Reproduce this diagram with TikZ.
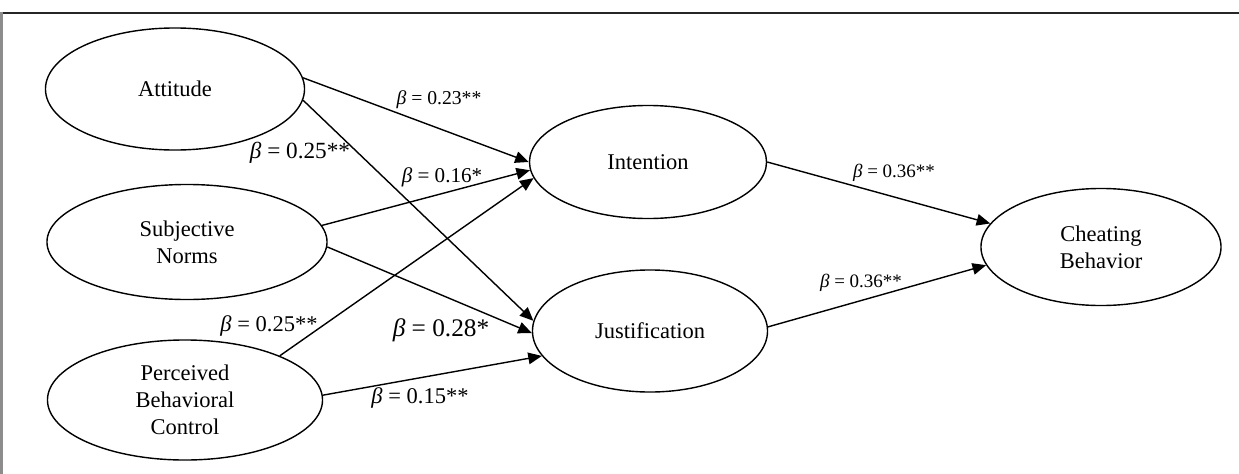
\documentclass[tikz,border=0pt]{standalone}
\usepackage{fontspec}
\setmainfont{Liberation Serif}
\usetikzlibrary{shapes.geometric,arrows.meta}
\begin{document}
\begin{tikzpicture}[x=0.025cm,y=-0.025cm,
  var/.style={ellipse,draw,line width=1pt,inner sep=0pt,align=center,font=\fontsize{16}{19}\selectfont},
  arr/.style={draw,line width=1pt,-{Triangle[length=0.34cm,width=0.29cm]}},
  lab/.style={inner sep=0pt}]
\useasboundingbox (0,0) rectangle (1239,474);
% frame
\draw[black!85,line width=0.05cm] (0,12.5) -- (1239,12.5);
\draw[black!45,line width=0.07cm] (1.5,12) -- (1.5,474);
% variables
\node[var,minimum width=6.475cm,minimum height=3.05cm] (att) at (175,89) {Attitude};
\node[var,minimum width=7.0cm,minimum height=2.875cm] (sn) at (187,242) {Subjective\\Norms};
\node[var,minimum width=6.875cm,minimum height=3.0cm] (pbc) at (185,400) {Perceived\\Behavioral\\Control};
\node[var,minimum width=5.925cm,minimum height=2.825cm] (int) at (648,162) {Intention};
\node[var,minimum width=5.875cm,minimum height=3.05cm] (jus) at (650,331) {Justification};
\node[var,minimum width=6.0cm,minimum height=2.925cm] (cb) at (1101,247) {Cheating\\Behavior};
% paths
\draw[arr] (att.5.4) -- (int.180);
\draw[arr] (att.-5.8) -- (jus.175.7);
\draw[arr] (sn.7.9) -- (int.184.8);
\draw[arr] (sn.-2.4) -- (jus.181);
\draw[arr] (pbc.25.6) -- (int.188.6);
\draw[arr] (pbc.2.9) -- (jus.193);
\draw[arr] (int.0) -- (cb.168);
\draw[arr] (jus.2.9) -- (cb.189.8);
% labels
\node[lab,font=\fontsize{14}{16}\selectfont] (l1) at (439,100) {\textit{β} = 0.23**};
\node[lab,font=\fontsize{16.5}{18}\selectfont] (l2) at (300,153) {\textit{β} = 0.25**};
\node[lab,font=\fontsize{15}{17}\selectfont] (l3) at (442,177) {\textit{β} = 0.16*};
\node[lab,font=\fontsize{16}{18}\selectfont] (l4) at (269,326) {\textit{β} = 0.25**};
\node[lab,font=\fontsize{18}{20}\selectfont] (l5) at (441,330) {\textit{β} = 0.28*};
\node[lab,font=\fontsize{16}{18}\selectfont] (l6) at (420,398) {\textit{β} = 0.15**};
\node[lab,font=\fontsize{13.5}{15}\selectfont] (l7) at (894,173) {\textit{β} = 0.36**};
\node[lab,font=\fontsize{13.5}{15}\selectfont] (l8) at (861,283) {\textit{β} = 0.36**};
\end{tikzpicture}
\end{document}
